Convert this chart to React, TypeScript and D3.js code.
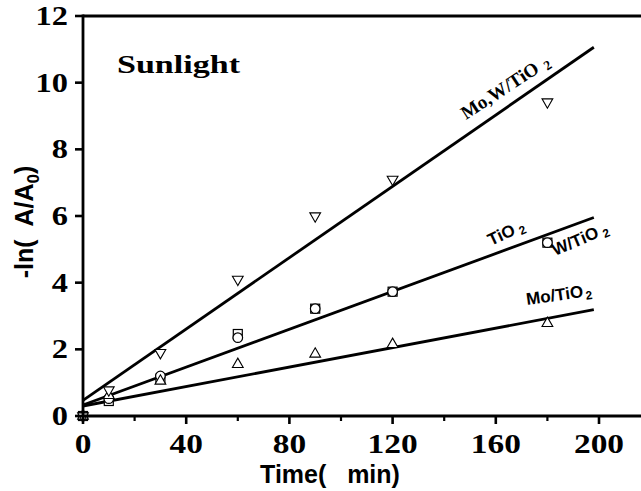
import React, { useRef, useEffect } from 'react';
import * as d3 from 'd3';

// times (min) where samples were taken
const times = [0, 10, 30, 60, 90, 120, 180];

// -ln(A/A0)
const moWTiO2 = [0, 0.78, 1.9, 4.1, 6.0, 7.1, 9.42];
const tio2 = [0, 0.52, 1.2, 2.35, 3.22, 3.73, 5.2];
const wTiO2 = [0, 0.45, 1.12, 2.46, 3.22, 3.73, 5.2];
const moTiO2 = [0, 0.62, 1.05, 1.55, 1.86, 2.15, 2.78];

// linear fits: [intercept, slope], drawn from t=0 to fitEnd
const fitMoW = [0.47, 0.0535];
const fitTiO2 = [0.33, 0.0284];
const fitMo = [0.3, 0.0146];
const fitEnd = 198;

const xTicks = [0, 40, 80, 120, 160, 200];
const xMinorTicks = [20, 60, 100, 140, 180];
const yTicks = [0, 2, 4, 6, 8, 10, 12];

const SERIF = '"Liberation Serif", "Times New Roman", serif';
const SANS = '"Liberation Sans", Arial, sans-serif';

const App = () => {
  const svgRef = useRef(null);

  useEffect(() => {
    document.body.style.margin = '0';
    const svg = d3.select(svgRef.current);
    svg.selectAll('*').remove();

    const width = 641;
    const x = d3.scaleLinear().domain([0, 200]).range([83, 599]);
    const y = d3.scaleLinear().domain([0, 12]).range([416, 16]);

    // fit lines
    const line = d3.line().x(d => x(d[0])).y(d => y(d[1]));
    [fitMoW, fitTiO2, fitMo].forEach(f => {
      svg.append('path')
        .attr('d', line([[0, f[0]], [fitEnd, f[0] + f[1] * fitEnd]]))
        .attr('fill', 'none')
        .attr('stroke', '#000')
        .attr('stroke-width', 2.8);
    });

    const pts = (vals) => times.map((t, i) => [t, vals[i]]);

    // squares (W/TiO2)
    svg.selectAll('.sq').data(pts(wTiO2)).enter().append('rect')
      .attr('x', d => x(d[0]) - 4.5).attr('y', d => y(d[1]) - 4.5)
      .attr('width', 9).attr('height', 9)
      .attr('fill', '#fff').attr('stroke', '#000').attr('stroke-width', 1.2);

    // circles (TiO2)
    svg.selectAll('.ci').data(pts(tio2)).enter().append('circle')
      .attr('cx', d => x(d[0])).attr('cy', d => y(d[1])).attr('r', 4.8)
      .attr('fill', '#fff').attr('stroke', '#000').attr('stroke-width', 1.2);

    // up triangles (Mo/TiO2)
    const tri = d3.symbol().type(d3.symbolTriangle).size(50);
    svg.selectAll('.ut').data(pts(moTiO2)).enter().append('path')
      .attr('d', tri)
      .attr('transform', d => `translate(${x(d[0])},${y(d[1])})`)
      .attr('fill', '#fff').attr('stroke', '#000').attr('stroke-width', 1.1);

    // down triangles (Mo,W/TiO2)
    svg.selectAll('.dt').data(pts(moWTiO2)).enter().append('path')
      .attr('d', tri)
      .attr('transform', d => `translate(${x(d[0])},${y(d[1])}) rotate(180)`)
      .attr('fill', '#fff').attr('stroke', '#000').attr('stroke-width', 1.1);

    // axes frame
    svg.append('line').attr('x1', x(0)).attr('x2', width + 5)
      .attr('y1', y(0)).attr('y2', y(0)).attr('stroke', '#000').attr('stroke-width', 2.8);
    svg.append('line').attr('x1', x(0)).attr('x2', width + 5)
      .attr('y1', y(12)).attr('y2', y(12)).attr('stroke', '#000').attr('stroke-width', 2.8);
    svg.append('line').attr('x1', x(0)).attr('x2', x(0))
      .attr('y1', y(0) + 1.4).attr('y2', y(12) - 1.4).attr('stroke', '#000').attr('stroke-width', 2.8);

    // x ticks
    xTicks.forEach(t => {
      svg.append('line').attr('x1', x(t)).attr('x2', x(t))
        .attr('y1', y(0)).attr('y2', y(0) + 8).attr('stroke', '#000').attr('stroke-width', 2.6);
      svg.append('text').attr('x', x(t)).attr('y', 453)
        .attr('text-anchor', 'middle')
        .attr('font-family', SERIF).attr('font-weight', 'bold').attr('font-size', 27)
        .attr('textLength', 16.7 * String(t).length).attr('lengthAdjust', 'spacingAndGlyphs')
        .text(t);
    });
    xMinorTicks.forEach(t => {
      svg.append('line').attr('x1', x(t)).attr('x2', x(t))
        .attr('y1', y(0)).attr('y2', y(0) + 5).attr('stroke', '#000').attr('stroke-width', 2.2);
    });

    // y ticks
    yTicks.forEach(v => {
      svg.append('line').attr('x1', x(0)).attr('x2', x(0) - 8)
        .attr('y1', y(v)).attr('y2', y(v)).attr('stroke', '#000').attr('stroke-width', 2.6);
      svg.append('text').attr('x', 68).attr('y', y(v) + 9)
        .attr('text-anchor', 'end')
        .attr('font-family', SERIF).attr('font-weight', 'bold').attr('font-size', 27)
        .attr('textLength', 16.2 * String(v).length).attr('lengthAdjust', 'spacingAndGlyphs')
        .text(v);
    });

    // axis titles
    svg.append('text').attr('x', 330).attr('y', 483)
      .attr('text-anchor', 'middle')
      .attr('font-family', SANS).attr('font-weight', 'bold').attr('font-size', 25)
      .attr('xml:space', 'preserve')
      .text('Time(   min)');

    const yl = svg.append('text')
      .attr('transform', 'translate(33,222) rotate(-90)')
      .attr('text-anchor', 'middle')
      .attr('xml:space', 'preserve')
      .attr('font-family', SANS).attr('font-weight', 'bold').attr('font-size', 25);
    yl.append('tspan').text('-ln(  A/A');
    yl.append('tspan').attr('dy', 6).attr('font-size', 17).text('0');
    yl.append('tspan').attr('dy', -6).text(')');

    // panel label
    svg.append('text').attr('x', 117).attr('y', 73)
      .attr('font-family', SERIF).attr('font-weight', 'bold').attr('font-size', 26)
      .attr('textLength', 123).attr('lengthAdjust', 'spacingAndGlyphs')
      .text('Sunlight');

    // series labels
    const seriesLabel = (tx, ty, angle, main, font, size, gap) => {
      const t = svg.append('text')
        .attr('transform', `translate(${tx},${ty}) rotate(${angle})`)
        .attr('font-family', font).attr('font-weight', 'bold').attr('font-size', size);
      t.append('tspan').text(main);
      t.append('tspan').attr('dx', gap).attr('dy', 3).attr('font-size', size * 0.7).text('2');
    };
    seriesLabel(466, 120, -33, 'Mo,W/TiO', SERIF, 19, 6);
    seriesLabel(491, 246, -25, 'TiO', SANS, 17, 4);
    seriesLabel(555, 256, -23, 'W/TiO', SANS, 17, 4);
    seriesLabel(527, 305, -8, 'Mo/TiO', SANS, 17, 2);
  }, []);

  return <svg ref={svgRef} width={641} height={491} style={{ display: 'block', background: '#fff' }} />;
};

export default App;
